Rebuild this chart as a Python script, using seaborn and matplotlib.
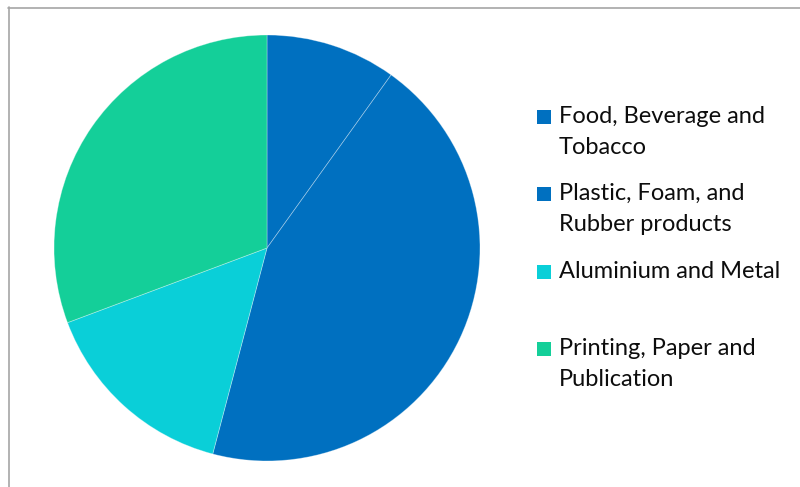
import matplotlib
matplotlib.use("Agg")
import matplotlib.pyplot as plt
import seaborn as sns
from matplotlib.patches import Rectangle
from matplotlib.lines import Line2D

categories = ["Food, Beverage and Tobacco",
              "Plastic, Foam, and Rubber products",
              "Aluminium and Metal",
              "Printing, Paper and Publication"]
legend_lines = [["Food, Beverage and", "Tobacco"],
                ["Plastic, Foam, and", "Rubber products"],
                ["Aluminium and Metal"],
                ["Printing, Paper and", "Publication"]]
values = [9.9, 44.2, 15.2, 30.7]
colors = ["#0070C0", "#0070C0", "#0ACFD8", "#14CF99"]

sns.set_theme(style="white")
plt.rcParams['font.family'] = ['Lato', 'DejaVu Sans']

W, H = 800, 487
fig = plt.figure(figsize=(8, 4.87), dpi=100)

def fx(px):
    return px / W

def fy(py):
    return 1 - py / H

cx, cy, r = 267, 248, 213
ax = fig.add_axes([fx(cx - r), fy(cy + r), 2 * r / W, 2 * r / H])
ax.pie(values, colors=colors, startangle=90, counterclock=False,
       wedgeprops=dict(edgecolor=(1, 1, 1, 0.35), linewidth=0.6))
ax.set_xlim(-1, 1)
ax.set_ylim(-1, 1)
ax.set_aspect("equal")
ax.axis("off")

# chart border (cropped)
fig.add_artist(Line2D([fx(8), 1], [fy(7.5), fy(7.5)], color="#a6a6a6", lw=1.2))
fig.add_artist(Line2D([fx(8.5), fx(8.5)], [fy(7), 0], color="#a6a6a6", lw=1.2))

# legend
baselines = [123, 200, 278, 355]
line_gap = 31
for lines, col, b in zip(legend_lines, colors, baselines):
    fig.add_artist(Rectangle((fx(537), fy(b + 1)), 14 / W, 14 / H,
                             transform=fig.transFigure, color=col, lw=0))
    for i, t in enumerate(lines):
        fig.text(fx(559), fy(b + i * line_gap), t, fontsize=17,
                 color="#0d0d0d", va="baseline", ha="left")

fig.savefig("out.png", dpi=100, facecolor="white")
